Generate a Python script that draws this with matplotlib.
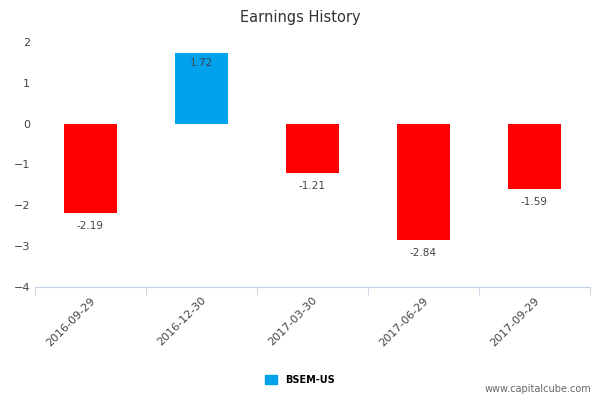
import matplotlib.pyplot as plt
from matplotlib.patches import Patch

dates = ["2016-09-29", "2016-12-30", "2017-03-30", "2017-06-29", "2017-09-29"]
values = [-2.19, 1.72, -1.21, -2.84, -1.59]
series_name = "BSEM-US"

colors = ["#ff0000" if v < 0 else "#00a2ed" for v in values]

fig = plt.figure(figsize=(6, 4), dpi=100)
ax = fig.add_axes([0.058, 0.2825, 0.925, 0.6125])
x = range(len(dates))
ax.bar(x, values, width=0.48, color=colors)

for i, v in enumerate(values):
    if v < 0:
        ax.text(i, v - 0.2, f"{v:.2f}", ha="center", va="top", fontsize=7.5, color="#444444")
    else:
        ax.text(i, v - 0.1, f"{v:.2f}", ha="center", va="top", fontsize=7.5, color="#444444")

ax.set_xlim(-0.5, len(dates) - 0.5)
ax.set_ylim(-4, 2)
ax.set_yticks(range(-4, 3))
ax.set_xticks(x)
ax.set_xticklabels(dates, rotation=45, ha="right", rotation_mode="anchor", fontsize=8, color="#444444")
ax.set_xticks([i + 0.5 for i in range(-1, len(dates))], minor=True)
ax.tick_params(axis="x", which="major", length=0, pad=6)
ax.tick_params(axis="x", which="minor", length=6, color="#c0d0e0")
ax.tick_params(axis="y", length=0, labelsize=8, labelcolor="#444444")
for s in ["top", "right", "left"]:
    ax.spines[s].set_visible(False)
ax.spines["bottom"].set_color("#c0d0e0")

fig.suptitle("Earnings History", y=0.975, fontsize=10.5, color="#333333")
fig.legend(handles=[Patch(color="#00a2ed", label=series_name)], loc="center",
           bbox_to_anchor=(0.5, 0.05), frameon=False, fontsize=7,
           handlelength=1.2, handleheight=1.0, prop={"weight": "bold", "size": 7})
fig.text(0.985, 0.02, "www.capitalcube.com", ha="right", fontsize=7, color="#666666")

fig.savefig("out.png")
